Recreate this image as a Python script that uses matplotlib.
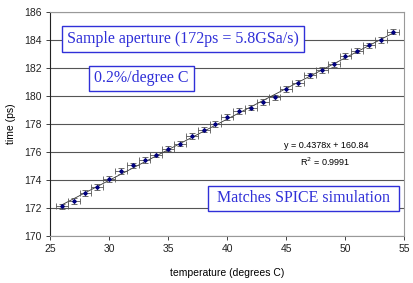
#!/usr/bin/env python3
"""Sample aperture delay versus temperature, with linear trend line."""
import numpy as np
import matplotlib
matplotlib.use('Agg')
import matplotlib.pyplot as plt

temperature = [26, 27, 28, 29, 30, 31, 32, 33, 34, 35, 36, 37, 38, 39, 40,
               41, 42, 43, 44, 45, 46, 47, 48, 49, 50, 51, 52, 53, 54]
time_ps = [172.12, 172.52, 173.08, 173.52, 174.08, 174.65, 175.05, 175.42, 175.81, 176.25,
           176.6, 177.15, 177.6, 177.98, 178.5, 178.95, 179.17, 179.57, 179.9, 180.5,
           180.95, 181.47, 181.86, 182.26, 182.85, 183.24, 183.62, 184.0, 184.6]
temp_err = 0.5
time_err = 0.2
slope, intercept = 0.4378, 160.84
r_squared = 0.9991

BLUE = '#3030d8'
SERIF = ['Liberation Serif', 'DejaVu Serif']
SANS = ['Liberation Sans', 'DejaVu Sans']


def main() -> int:
    plt.rcParams['font.family'] = SANS
    fig = plt.figure(figsize=(4.14, 2.83), dpi=100)
    ax = fig.add_axes([50/414, 47/283, 354.5/414, 224/283])

    ax.errorbar(temperature, time_ps, xerr=temp_err, yerr=time_err, fmt='none',
                ecolor='#555555', elinewidth=0.6, capsize=2, capthick=0.6, zorder=3)
    ax.plot(temperature, time_ps, 'D', color='#000080', markersize=1.8, zorder=4)
    t = np.array([temperature[0], temperature[-1]])
    ax.plot(t, slope*t + intercept, color='#333333', linewidth=0.6, zorder=2)

    ax.set_xlim(25, 55); ax.set_ylim(170, 186)
    ax.set_xticks(range(25, 56, 5)); ax.set_yticks(range(170, 187, 2))
    ax.grid(axis='y', color='#555555', linewidth=0.8)
    ax.set_axisbelow(True)
    for side in ('top', 'right', 'bottom'):
        ax.spines[side].set_color('#999999')
    ax.spines['left'].set_color('#222222')
    ax.tick_params(labelsize=7.5, length=3, width=0.6, colors='#222222', pad=3)
    ax.set_xlabel('temperature (degrees C)', fontsize=7.5, labelpad=10)
    ax.set_ylabel('time (ps)', fontsize=7.5, labelpad=6)

    box = dict(boxstyle='square,pad=0.3', facecolor='white', edgecolor=BLUE, linewidth=1)
    ax.text(36.25, 184.07, 'Sample aperture (172ps = 5.8GSa/s)', fontsize=11.5, color=BLUE,
            family=SERIF, ha='center', va='center', bbox=box, zorder=5)
    ax.text(32.74, 181.25, '0.2%/degree C', fontsize=11.5, color=BLUE,
            family=SERIF, ha='center', va='center', bbox=box, zorder=5)
    ax.text(46.45, 172.68, ' Matches SPICE simulation ', fontsize=11.5, color=BLUE,
            family=SERIF, ha='center', va='center', bbox=box, zorder=5)

    ax.text(48.4, 176.5, f'y = {slope}x + {intercept}', fontsize=6.5, ha='center', va='center')
    ax.text(48.3, 175.3, f'R$^2$ = {r_squared}', fontsize=6.5, ha='center', va='center')

    fig.savefig('out.png', dpi=100)
    plt.close(fig)
    return 0


if __name__ == '__main__':
    raise SystemExit(main())
